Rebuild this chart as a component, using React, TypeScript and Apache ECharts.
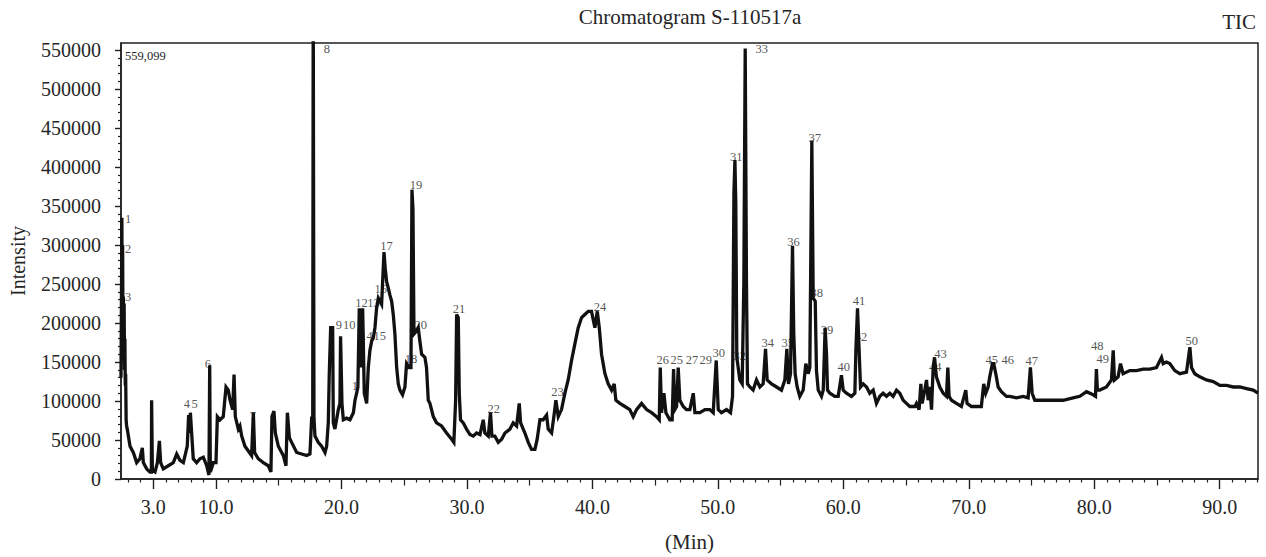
import React, { useEffect, useRef } from "react";
import * as echarts from "echarts";

// ---- Trace readings: [retention time (min), intensity] ----
const trace03to18: [number, number][] = [
  [2.43, 130000], [2.5, 335000], [2.53, 190000], [2.56, 300000], [2.59, 170000], [2.62, 234000],
  [2.65, 150000], [2.68, 225000], [2.71, 140000], [2.74, 180000], [2.77, 120000], [2.8, 135000],
  [2.84, 75000], [2.88, 68000], [2.95, 62000], [3.15, 42000], [3.41, 34000], [3.68, 21000],
  [3.94, 26000], [4.13, 40000], [4.21, 21000], [4.48, 13000], [4.74, 9000], [4.85, 9000],
  [4.87, 101000], [4.93, 11000], [5.14, 9000], [5.33, 21000], [5.49, 49000], [5.59, 21000],
  [5.8, 13000], [6.2, 17000], [6.6, 21000], [6.87, 32000], [7.13, 24000], [7.4, 21000],
  [7.71, 42000], [7.82, 82000], [7.9, 59000], [7.96, 85000], [8.06, 59000], [8.19, 26000],
  [8.46, 21000], [8.72, 26000], [8.99, 28000], [9.26, 17000], [9.44, 5000], [9.5, 146000],
  [9.55, 9000], [9.79, 21000], [10.0, 21000], [10.11, 80000], [10.32, 76000], [10.58, 80000],
  [10.8, 118000], [10.98, 114000], [11.12, 101000], [11.33, 89000], [11.44, 134000], [11.54, 80000],
  [11.78, 64000], [11.91, 68000], [12.05, 55000], [12.31, 42000], [12.58, 36000], [12.84, 30000],
  [12.98, 85000], [13.08, 34000], [13.37, 26000], [13.77, 21000], [14.17, 17000], [14.38, 9000],
  [14.46, 80000], [14.62, 87000], [14.73, 59000], [14.97, 42000], [15.37, 30000], [15.58, 17000],
  [15.69, 85000], [15.85, 53000], [16.03, 47000], [16.43, 34000], [16.83, 32000], [17.23, 30000],
  [17.49, 32000], [17.63, 80000], [17.71, 72000], [17.75, 620000], [17.81, 78000],
];

const trace18to33: [number, number][] = [
  [17.89, 55000], [18.15, 47000], [18.42, 42000], [18.69, 34000], [18.82, 42000], [18.95, 72000],
  [19.03, 135000], [19.14, 194000], [19.3, 194000], [19.35, 72000], [19.48, 64000], [19.75, 89000],
  [19.88, 97000], [19.93, 183000], [20.04, 97000], [20.15, 76000], [20.41, 78000], [20.68, 76000],
  [20.95, 85000], [21.08, 101000], [21.21, 110000], [21.31, 118000], [21.42, 219000], [21.53, 143000],
  [21.69, 219000], [21.82, 110000], [22.01, 97000], [22.14, 143000], [22.27, 165000], [22.41, 177000],
  [22.54, 181000], [22.67, 194000], [22.8, 219000], [22.94, 232000], [23.07, 228000], [23.2, 224000],
  [23.39, 291000], [23.49, 270000], [23.6, 253000], [23.73, 245000], [23.86, 236000], [24.0, 228000],
  [24.13, 211000], [24.26, 186000], [24.4, 143000], [24.53, 122000], [24.66, 114000], [24.87, 108000],
  [25.06, 118000], [25.19, 148000], [25.41, 143000], [25.54, 143000], [25.62, 371000], [25.7, 346000],
  [25.78, 186000], [25.99, 190000], [26.12, 194000], [26.25, 177000], [26.39, 160000], [26.65, 156000],
  [26.78, 143000], [26.92, 101000], [27.05, 97000], [27.32, 80000], [27.58, 72000], [27.98, 68000],
  [28.38, 59000], [28.78, 51000], [28.96, 47000], [29.1, 101000], [29.18, 211000], [29.31, 207000],
  [29.39, 110000], [29.49, 76000], [29.71, 72000], [29.97, 64000], [30.24, 57000], [30.5, 55000],
  [30.77, 59000], [31.04, 57000], [31.3, 76000], [31.43, 59000], [31.7, 55000], [31.88, 85000],
  [31.99, 55000], [32.23, 55000], [32.5, 47000], [32.77, 51000], [33.03, 59000], [33.43, 64000],
];

const trace33to50: [number, number][] = [
  [33.69, 72000], [33.96, 68000], [34.17, 97000], [34.28, 72000], [34.62, 59000], [34.89, 47000],
  [35.15, 38000], [35.42, 38000], [35.6, 51000], [35.82, 76000], [36.08, 76000], [36.35, 82000],
  [36.48, 64000], [36.75, 59000], [36.93, 80000], [37.09, 101000], [37.28, 80000], [37.54, 89000],
  [37.81, 110000], [38.07, 127000], [38.34, 152000], [38.6, 173000], [38.87, 194000], [39.14, 207000],
  [39.4, 211000], [39.67, 215000], [39.93, 215000], [40.2, 194000], [40.39, 215000], [40.55, 194000],
  [40.73, 160000], [41.0, 135000], [41.26, 122000], [41.53, 114000], [41.74, 122000], [41.87, 101000],
  [42.19, 97000], [42.59, 93000], [42.98, 89000], [43.25, 80000], [43.52, 89000], [43.92, 97000],
  [44.32, 89000], [44.72, 85000], [45.11, 80000], [45.33, 76000], [45.41, 143000], [45.51, 85000],
  [45.7, 110000], [45.86, 85000], [46.17, 76000], [46.36, 76000], [46.47, 141000], [46.57, 89000],
  [46.71, 93000], [46.84, 143000], [46.97, 101000], [47.24, 93000], [47.5, 89000], [47.77, 89000],
  [48.04, 110000], [48.17, 85000], [48.57, 85000], [48.97, 89000], [49.36, 89000], [49.63, 85000],
  [49.87, 152000], [50.03, 89000],
];

const trace50to66: [number, number][] = [
  [50.29, 85000], [50.69, 89000], [51.01, 85000], [51.17, 106000], [51.28, 367000], [51.36, 409000],
  [51.43, 354000], [51.51, 156000], [51.62, 143000], [51.75, 127000], [51.94, 122000], [52.07, 251000],
  [52.18, 552000], [52.28, 251000], [52.36, 122000], [52.55, 118000], [52.81, 114000], [53.08, 127000],
  [53.35, 118000], [53.61, 122000], [53.8, 167000], [53.93, 127000], [54.28, 122000], [54.68, 118000],
  [55.07, 114000], [55.34, 127000], [55.5, 167000], [55.63, 122000], [55.79, 135000], [55.95, 299000],
  [56.05, 186000], [56.16, 135000], [56.32, 118000], [56.53, 106000], [56.8, 114000], [57.01, 148000],
  [57.2, 135000], [57.33, 143000], [57.49, 434000], [57.6, 232000], [57.76, 228000], [57.86, 139000],
  [58.0, 114000], [58.26, 106000], [58.4, 114000], [58.55, 194000], [58.66, 160000], [58.74, 114000],
  [58.93, 110000], [59.32, 106000], [59.59, 106000], [59.85, 133000], [59.99, 114000], [60.25, 110000],
  [60.65, 106000], [60.92, 110000], [61.0, 165000], [61.13, 219000], [61.24, 173000], [61.37, 118000],
  [61.58, 122000], [61.85, 118000], [62.11, 110000], [62.38, 114000], [62.64, 97000], [62.91, 106000],
  [63.17, 110000], [63.44, 106000], [63.71, 110000], [63.97, 106000], [64.24, 114000], [64.5, 110000],
  [64.77, 101000], [65.03, 97000], [65.3, 93000], [65.7, 93000],
];

const trace66to93: [number, number][] = [
  [65.83, 97000], [66.04, 89000], [66.18, 122000], [66.28, 97000], [66.49, 114000], [66.63, 127000],
  [66.76, 101000], [66.89, 118000], [67.03, 89000], [67.16, 143000], [67.27, 156000], [67.42, 131000],
  [67.69, 118000], [67.96, 110000], [68.22, 106000], [68.33, 143000], [68.43, 106000], [68.62, 101000],
  [69.01, 97000], [69.41, 93000], [69.76, 114000], [69.86, 97000], [70.21, 93000], [70.61, 93000],
  [71.0, 93000], [71.19, 122000], [71.35, 110000], [71.54, 118000], [71.67, 131000], [71.88, 148000],
  [71.99, 148000], [72.15, 135000], [72.34, 118000], [72.6, 112000], [73.0, 106000], [73.27, 106000],
  [73.8, 104000], [74.33, 106000], [74.73, 104000], [74.91, 143000], [75.05, 110000], [75.26, 101000],
  [75.92, 101000], [76.72, 101000], [77.52, 101000], [78.31, 104000], [78.85, 106000], [79.38, 112000],
  [79.91, 108000], [80.1, 106000], [80.17, 141000], [80.25, 114000], [80.44, 114000], [80.97, 118000],
  [81.37, 127000], [81.51, 165000], [81.61, 127000], [81.9, 131000], [82.09, 148000], [82.3, 135000],
  [82.83, 139000], [83.37, 139000], [83.9, 141000], [84.43, 141000], [84.96, 143000], [85.36, 156000],
  [85.49, 148000], [85.75, 150000], [86.02, 148000], [86.42, 139000], [86.82, 135000], [87.35, 137000],
  [87.62, 169000], [87.75, 143000], [88.01, 135000], [88.41, 131000], [88.94, 127000], [89.48, 125000],
  [90.01, 120000], [90.54, 120000], [91.07, 118000], [91.6, 118000], [92.14, 116000], [92.67, 114000],
  [93.05, 110000],
];

// ---- Peak number annotations (label anchor in data units) ----
const peakNames = [
  "1", "2", "3", "4", "5", "6", "7", "8", "9", "10", "1", "12", "13", "14", "15", "16", "17",
  "18", "19", "20", "21", "22", "23", "24", "26", "25", "27", "29", "30", "31", "32", "33",
  "34", "35", "36", "37", "38", "39", "40", "41", "42", "43", "44", "45", "46", "47", "48", "49", "50",
];
const peakLabelTime = [
  2.99, 2.99, 2.99, 7.68, 8.3, 9.36, 12.95, 18.84, 19.8, 20.62, 21.08, 21.6, 22.55, 22.0, 23.05,
  23.13, 23.59, 25.54, 25.94, 26.33, 29.36, 32.13, 37.21, 40.6, 45.6, 46.73, 47.93, 49.04, 50.08,
  51.47, 51.75, 53.49, 53.97, 55.58, 56.02, 57.73, 57.89, 58.69, 60.04, 61.24, 61.4, 67.75, 67.33,
  71.83, 73.11, 75.02, 80.24, 80.68, 87.77,
];
const peakLabelIntensity = [
  334000, 295000, 234000, 96000, 96000, 147000, 81000, 552000, 197000, 197000, 119000, 226000,
  226000, 183000, 183000, 244000, 299000, 154000, 377000, 198000, 218000, 90000, 112000, 220000,
  153000, 153000, 153000, 153000, 162000, 413000, 158000, 552000, 175000, 174000, 304000, 437000,
  239000, 191000, 144000, 228000, 182000, 160000, 144000, 152000, 152000, 151000, 171000, 154000, 177000,
];

// ---- Axis ticks ----
const xMajorTicks = [5, 10, 20, 30, 40, 50, 60, 70, 80, 90];
const xMajorLabels = ["3.0", "10.0", "20.0", "30.0", "40.0", "50.0", "60.0", "70.0", "80.0", "90.0"];
const xMidTicks = [15, 25, 35, 45, 55, 65, 75, 85];
const xMinorTicks: number[] = [];
for (let m = 3; m <= 93; m++) if (m % 5 !== 0) xMinorTicks.push(m);
const yMajorTicks = [0, 50000, 100000, 150000, 200000, 250000, 300000, 350000, 400000, 450000, 500000, 550000];
const yMinorTicks: number[] = [];
for (let v = 10000; v < 559099; v += 10000) if (v % 50000 !== 0) yMinorTicks.push(v);

const X_MIN = 2.43;
const X_MAX = 93.05;
const Y_MAX = 559099;

const FONT = "'Liberation Serif', 'Times New Roman', serif";
const TEXT = "#262626";
const INK = "#1f1f1f";

export default function App() {
  const ref = useRef<HTMLDivElement>(null);

  useEffect(() => {
    if (!ref.current) return;
    const chart = echarts.init(ref.current, null, { renderer: "svg" });
    const trace = [...trace03to18, ...trace18to33, ...trace33to50, ...trace50to66, ...trace66to93];

    const baseX = {
      type: "value" as const,
      gridIndex: 0,
      position: "bottom" as const,
      min: X_MIN,
      max: X_MAX,
      splitLine: { show: false },
    };
    const baseY = {
      type: "value" as const,
      gridIndex: 0,
      position: "left" as const,
      min: 0,
      max: Y_MAX,
      splitLine: { show: false },
    };

    chart.setOption({
      animation: false,
      backgroundColor: "#ffffff",
      textStyle: { fontFamily: FONT },
      title: [
        {
          text: "Chromatogram S-110517a",
          left: 690,
          top: 6,
          textAlign: "center",
          padding: 0,
          textStyle: { fontFamily: FONT, fontSize: 21, fontWeight: "normal", color: TEXT },
        },
        {
          text: "TIC",
          right: 10,
          top: 11,
          padding: 0,
          textStyle: { fontFamily: FONT, fontSize: 21, fontWeight: "normal", color: TEXT },
        },
      ],
      grid: {
        left: 121,
        right: 8,
        top: 43,
        bottom: 70,
        show: true,
        borderColor: INK,
        borderWidth: 1.5,
      },
      xAxis: [
        {
          ...baseX,
          name: "(Min)",
          nameLocation: "middle",
          nameGap: 52,
          nameTextStyle: { fontFamily: FONT, fontSize: 21, color: TEXT },
          axisLine: { show: true, lineStyle: { color: INK, width: 1.5 } },
          axisTick: { show: true, customValues: xMajorTicks, length: 10, lineStyle: { color: INK, width: 1.4 } },
          axisLabel: {
            show: true,
            customValues: xMajorTicks,
            margin: 18,
            fontFamily: FONT,
            fontSize: 20,
            color: TEXT,
            formatter: (v: number) => {
              const i = xMajorTicks.findIndex((t) => Math.abs(t - v) < 1e-6);
              return i >= 0 ? xMajorLabels[i] : "";
            },
          },
        },
        {
          ...baseX,
          axisLine: { show: false },
          axisLabel: { show: false },
          axisTick: { show: true, customValues: xMidTicks, length: 6.5, lineStyle: { color: INK, width: 1.2 } },
        },
        {
          ...baseX,
          axisLine: { show: false },
          axisLabel: { show: false },
          axisTick: { show: true, customValues: xMinorTicks, length: 3.5, lineStyle: { color: INK, width: 1.2 } },
        },
      ],
      yAxis: [
        {
          ...baseY,
          name: "Intensity",
          nameLocation: "middle",
          nameGap: 93,
          nameTextStyle: { fontFamily: FONT, fontSize: 20, color: TEXT },
          axisLine: { show: true, lineStyle: { color: INK, width: 1.5 } },
          axisTick: { show: true, customValues: yMajorTicks, length: 6, lineStyle: { color: INK, width: 1.4 } },
          axisLabel: {
            show: true,
            customValues: yMajorTicks,
            margin: 20,
            fontFamily: FONT,
            fontSize: 20,
            color: TEXT,
            formatter: (v: number) => String(Math.round(v)),
          },
        },
        {
          ...baseY,
          axisLine: { show: false },
          axisLabel: { show: false },
          axisTick: { show: true, customValues: yMinorTicks, length: 3, lineStyle: { color: INK, width: 1.2 } },
        },
      ],
      graphic: [
        {
          type: "text",
          left: 125,
          top: 49,
          silent: true,
          style: { text: "559,099", fontFamily: FONT, fontSize: 12.5, fill: TEXT },
        },
      ],
      series: [
        {
          type: "scatter",
          xAxisIndex: 0,
          yAxisIndex: 0,
          z: 1,
          silent: true,
          symbolSize: 0,
          itemStyle: { color: "transparent" },
          label: {
            show: true,
            position: "inside",
            formatter: "{b}",
            fontFamily: FONT,
            fontSize: 12.5,
            color: TEXT,
            textBorderWidth: 0,
            textBorderColor: "transparent",
          },
          data: peakNames.map((n, i) => ({ name: n, value: [peakLabelTime[i], peakLabelIntensity[i]] })),
        },
        {
          type: "line",
          xAxisIndex: 0,
          yAxisIndex: 0,
          z: 2,
          silent: true,
          showSymbol: false,
          clip: true,
          lineStyle: { color: "#111111", width: 3.3, join: "miter" },
          data: trace,
        },
      ],
    });

    return () => chart.dispose();
  }, []);

  return (
    <div
      ref={ref}
      style={{ position: "fixed", left: 0, top: 0, width: 1266, height: 557, background: "#ffffff" }}
    />
  );
}
